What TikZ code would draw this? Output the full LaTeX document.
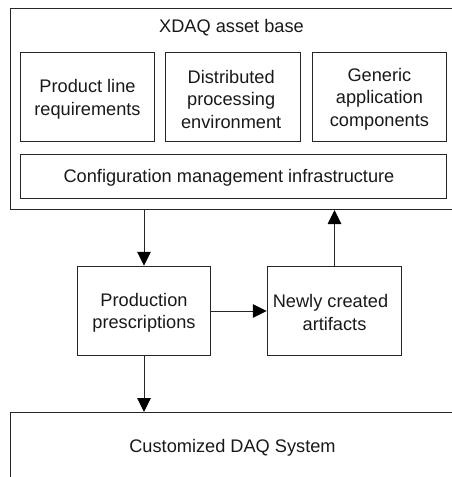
\documentclass[tikz,border=0pt]{standalone}
\usepackage{fontspec}
\setmainfont{Liberation Sans}
\usetikzlibrary{arrows.meta}
\newcommand{\topstrut}{\rule{0pt}{16.5bp}}
\tikzset{
  x=1bp,y=-1bp,
  labelfont/.style={font=\fontsize{18.2bp}{22.6bp}\selectfont,text=black!90},
  boxed/.style={draw=black!85,line width=1bp,inner sep=0pt,align=center,labelfont},
  conn/.style={draw=black!85,line width=1bp,-{Triangle[length=14bp,width=13.5bp,color=black]}}
}
\begin{document}
\begin{tikzpicture}
\useasboundingbox (0,0) rectangle (452,477);
\clip (0,0) rectangle (452,477);
% outer frames run off the right (and bottom) edge of the picture
\node[boxed,anchor=north west,minimum width=470bp,minimum height=200.5bp] (base) at (9.5,8.5) {};
\node[boxed,anchor=north west,minimum width=470bp,minimum height=90bp] (system) at (9.5,412) {};
\node[labelfont] (title) at (231.5,26) {\topstrut XDAQ asset base};
\node[labelfont] (systitle) at (232.5,446) {\topstrut Customized DAQ System};
\node[boxed,minimum width=134bp,minimum height=89bp] (req) at (87.5,97.5) {\topstrut Product line\\requirements};
\node[boxed,minimum width=134.5bp,minimum height=89bp] (dist) at (233.2,97.5) {\topstrut Distributed\kern4bp\\processing\kern4bp\\environment\kern4bp};
\node[boxed,minimum width=134.5bp,minimum height=89bp] (gen) at (379.4,97.5) {\topstrut Generic\\application\\components};
\node[boxed,minimum width=426bp,minimum height=44bp] (cfg) at (233.5,176.5) {\topstrut Configuration management infrastructure\kern9bp};
\node[boxed,minimum width=133.5bp,minimum height=89.5bp] (prod) at (144,311) {\topstrut Production\\prescriptions};
\node[boxed,minimum width=134.5bp,minimum height=89.5bp] (new) at (334.5,311) {\topstrut Newly created\kern8bp\\artifacts};
\draw[conn] (prod.north |- base.south) -- (prod.north);
\draw[conn] (prod.east) -- (new.west);
\draw[conn] (prod.south) -- (prod.south |- system.north);
\draw[conn] (new.north) -- (new.north |- base.south);
\end{tikzpicture}
\end{document}
